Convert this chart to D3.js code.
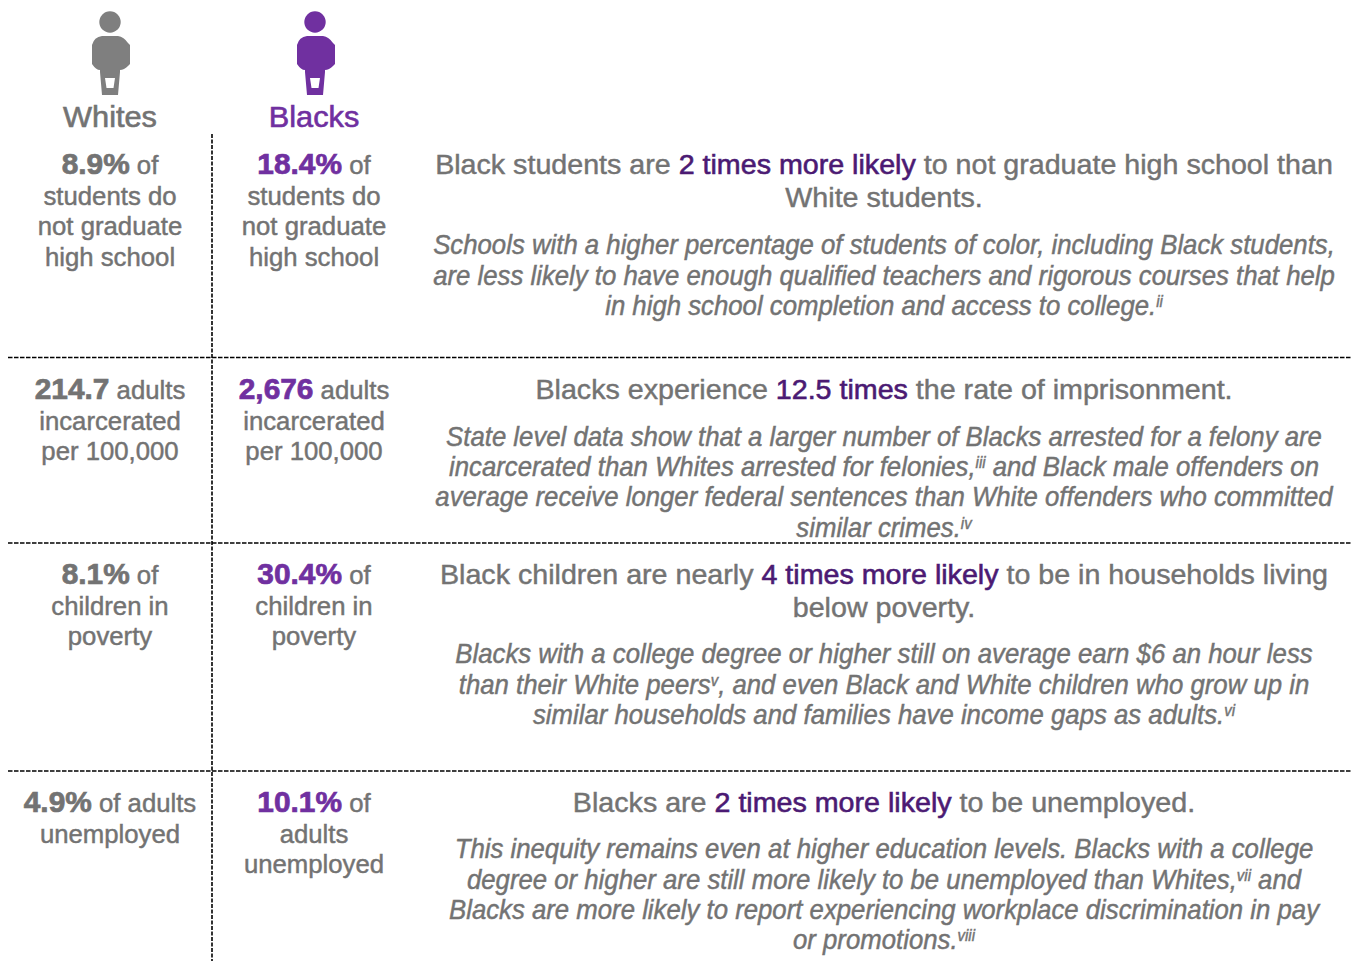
<html>
<head></head>
<body style="margin:0;background:#fff">
<svg id="svg" width="1351" height="961" style="display:block"></svg>
<script src="https://d3js.org/d3.v7.min.js"></script>
<script>

// [bold figure, rest of first line], then following lines
var whites = [
  ["8.9%", " of", "students do", "not graduate", "high school"],
  ["214.7", " adults", "incarcerated", "per 100,000"],
  ["8.1%", " of", "children in", "poverty"],
  ["4.9%", " of adults", "unemployed"]
];
var blacks = [
  ["18.4%", " of", "students do", "not graduate", "high school"],
  ["2,676", " adults", "incarcerated", "per 100,000"],
  ["30.4%", " of", "children in", "poverty"],
  ["10.1%", " of", "adults", "unemployed"]
];
// *..* = purple, ^..^ = superscript
var headlines = [
  ["Black students are *2 times more likely* to not graduate high school than", "White students."],
  ["Blacks experience *12.5 times* the rate of imprisonment."],
  ["Black children are nearly *4 times more likely* to be in households living", "below poverty."],
  ["Blacks are *2 times more likely* to be unemployed."]
];
var notes = [
  ["Schools with a higher percentage of students of color, including Black students,",
   "are less likely to have enough qualified teachers and rigorous courses that help",
   "in high school completion and access to college.^ii^"],
  ["State level data show that a larger number of Blacks arrested for a felony are",
   "incarcerated than Whites arrested for felonies,^iii^ and Black male offenders on",
   "average receive longer federal sentences than White offenders who committed",
   "similar crimes.^iv^"],
  ["Blacks with a college degree or higher still on average earn $6 an hour less",
   "than their White peers^v^, and even Black and White children who grow up in",
   "similar households and families have income gaps as adults.^vi^"],
  ["This inequity remains even at higher education levels. Blacks with a college",
   "degree or higher are still more likely to be unemployed than Whites,^vii^ and",
   "Blacks are more likely to report experiencing workplace discrimination in pay",
   "or promotions.^viii^"]
];
var groups = ["Whites", "Blacks"];

var grey = "#737373", iconGrey = "#7f7f7f", purple = "#7030a0", dark = "#4b1a73";
var svg = d3.select("#svg");

var firstBase = [174, 399, 584, 812];
var noteBase = [254.4, 445.8, 663.4, 858.4];
var rules = [357.5, 543, 771];
var colX = [110, 314];
var font = "Liberation Sans";

function stat(x, lines, y0, col) {
  var g = svg.append("g").attr("text-anchor", "middle").attr("transform", "translate("+x+",0) scale(1.03,1)")
    .style("font-family", font).style("font-size", "25px").style("fill", grey)
    .style("stroke", grey).style("stroke-width", 0.45);
  var t = g.append("text").attr("y", y0);
  t.append("tspan").style("font-weight", "bold").style("font-size", "29px").style("fill", col).style("stroke", col).style("stroke-width", 0.7).text(lines[0]);
  t.append("tspan").text(lines[1]);
  lines.slice(2).forEach((l, i) => {
    g.append("text").attr("y", y0 + 31 + i*30.5).text(l);
  });
}

// k squeezes the sans into the condensed look of the original
function rich(y, str, size, style, k) {
  var t = svg.append("text").attr("transform", "translate(884,"+y+") scale("+k+",1)").attr("text-anchor", "middle")
    .style("font-family", font).style("font-size", size+"px").style("font-style", style)
    .style("fill", grey).style("stroke", grey).style("stroke-width", 0.45);
  var up = false;
  str.split(/(\*[^*]+\*|\^[^^]+\^)/).filter(s => s).forEach(s => {
    if (s[0] == "*") {
      t.append("tspan").style("fill", dark).style("stroke", dark).style("stroke-width", 0.6).text(s.slice(1, -1));
    } else if (s[0] == "^") {
      t.append("tspan").attr("dy", -8).style("font-size", (size*0.58)+"px").text(s.slice(1, -1));
      up = true;
    } else {
      t.append("tspan").attr("dy", up ? 8 : null).text(s);
      up = false;
    }
  });
  return t;
}

function widthOf(str, size, style) {
  var t = rich(0, str, size, style, 1);
  var w = t.node().getComputedTextLength();
  t.remove();
  return w;
}
var headK = 898 / widthOf(headlines[0][0], 28.5, "normal");
var noteK = 902 / widthOf(notes[0][0], 27, "italic");

d3.range(4).forEach(i => {
  stat(colX[0], whites[i], firstBase[i], grey);
  stat(colX[1], blacks[i], firstBase[i], purple);
  headlines[i].forEach((l, j) => rich(firstBase[i] + j*33, l, 28.5, "normal", headK));
  notes[i].forEach((l, j) => rich(noteBase[i] + j*30.3, l, 27, "italic", noteK));
});

// the little person icons, relative to the centre of the head
var body = "M-8,36 H8 Q14,37 18,43 L20,45 V64 L18,66 Q14,70 10,70 V72 L8,95 H-8 L-10,72 V70 Q-14,70 -18,64 V45 Q-16,37 -8,36 Z M-5,78 H5 L3.5,88 H-3.5 Z";
groups.forEach((g, i) => {
  var x = [110, 315][i], c = [iconGrey, purple][i];
  svg.append("circle").attr("cx", x).attr("cy", 22).attr("r", 10.7).attr("fill", c);
  svg.append("path").attr("d", body).attr("fill-rule", "evenodd").attr("fill", c)
    .attr("transform", "translate("+x+",0)");
  svg.append("text").attr("transform", "translate("+colX[i]+",127) scale(1.06,1)").attr("text-anchor", "middle")
    .style("font-family", font).style("font-size", "29px").style("fill", i ? purple : grey)
    .style("stroke", i ? purple : grey).style("stroke-width", 0.6).text(g);
});

svg.append("line").attr("x1", 212).attr("x2", 212).attr("y1", 134).attr("y2", 961)
  .attr("stroke", "#000").attr("stroke-width", 1.6).attr("stroke-dasharray", "4,1.5");
svg.selectAll("line.rule").data(rules).join("line").classed("rule", true)
  .attr("x1", 8).attr("x2", 1351).attr("y1", d => d).attr("y2", d => d)
  .attr("stroke", "#000").attr("stroke-width", 1.3).attr("stroke-dasharray", "4.5,1.5");

</script>
</body>
</html>
